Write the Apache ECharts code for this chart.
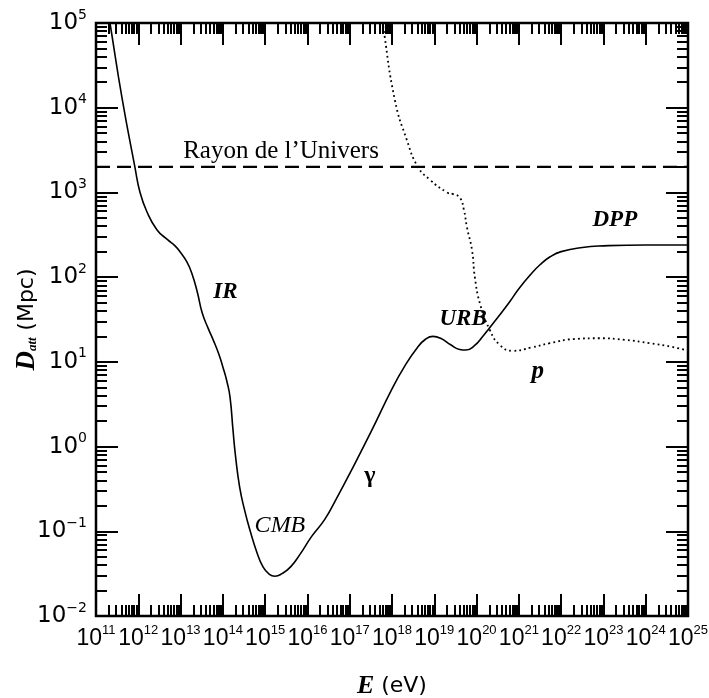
<!DOCTYPE html>
<html><head><meta charset="utf-8">
<script src="https://cdn.jsdelivr.net/npm/echarts@6/dist/echarts.min.js"></script>
<style>html,body{margin:0;padding:0;background:#fff}#c{width:709px;height:698px}</style>
</head><body><div id="c"></div>
<script>
// ---- data ----
const gammaE = [1.58e11, 2.14e11, 4.17e11, 8.3e11, 1.1e12, 1.58e12, 2.75e12, 5.0e12, 7.4e12, 1.0e13, 1.41e13, 1.86e13, 2.5e13, 3.24e13, 4.47e13, 5.9e13, 7.9e13, 1.0e14, 1.26e14, 1.48e14, 1.74e14, 2.0e14, 2.5e14, 3.3e14, 4.4e14, 6.3e14, 8.9e14, 1.26e15, 1.7e15, 2.5e15, 4.0e15, 6.6e15, 1.26e16, 2.57e16, 5.0e16, 1.0e17, 3.16e17, 1.0e18, 2.0e18, 4.0e18, 6.3e18, 9.3e18, 1.41e19, 2.5e19, 4.0e19, 5.6e19, 8.9e19, 1.41e20, 2.0e20, 3.55e20, 6.2e20, 1.0e21, 1.82e21, 3.16e21, 5.6e21, 1.0e22, 3.16e22, 1.0e23, 1.0e24, 1.0e25];
const gammaD = [2.5e5, 1.0e5, 1.26e4, 2000, 1000, 600, 363, 275, 234, 195, 151, 110, 66, 38, 25, 18.2, 12.6, 8.7, 5.75, 3.8, 1.55, 0.76, 0.33, 0.174, 0.102, 0.0575, 0.038, 0.031, 0.0295, 0.0316, 0.038, 0.053, 0.087, 0.138, 0.25, 0.48, 1.48, 4.8, 8.9, 14.8, 18.6, 20, 19, 15.8, 14, 13.8, 15.5, 20, 25, 36, 52, 73, 105, 140, 175, 200, 224, 234, 240, 240];
const protonE = [5.0e17, 6.0e17, 1.17e18, 2.24e18, 4.1e18, 7.9e18, 2.0e19, 2.8e19, 4.0e19, 5.0e19, 5.9e19, 7.8e19, 9.1e19, 1.2e20, 2.04e20, 3.55e20, 7.2e20, 2.0e21, 5.4e21, 2.0e22, 8.1e22, 3.16e23, 1.26e24, 4.0e24, 1.0e25];
const protonD = [1.8e5, 1.0e5, 1.23e4, 4170, 2000, 1410, 1000, 955, 870, 630, 390, 209, 100, 49, 24, 15.8, 13.5, 14.8, 16.6, 18.6, 19, 18.2, 16.6, 15.1, 13.5];
const universeE = [1e11, 1e25];
const universeD = [2000, 2000];
const xTickExponents = [11, 12, 13, 14, 15, 16, 17, 18, 19, 20, 21, 22, 23, 24, 25];
const yTickExponents = [-2, -1, 0, 1, 2, 3, 4, 5];
const minorMultipliers = [2, 3, 4, 5, 6, 7, 8, 9];
const annotationTexts = ['Rayon de l\u2019Univers', 'IR', 'CMB', '\u03b3', 'URB', 'p', 'DPP'];
const annotationE = [1.15e13, 1.15e14, 2.24e15, 3.0e17, 4.8e19, 2.8e21, 1.86e23];
const annotationD = [3080, 66, 0.118, 0.45, 32, 7.6, 472];

// ---- styles ----
const serif = 'Liberation Serif';
const annotationStyles = [
  {fontStyle: 'normal', fontWeight: 'normal', fontSize: 25, align: 'left'},
  {fontStyle: 'italic', fontWeight: 'bold', fontSize: 23, align: 'center'},
  {fontStyle: 'italic', fontWeight: 'normal', fontSize: 24, align: 'center'},
  {fontStyle: 'normal', fontWeight: 'bold', fontSize: 24, align: 'center'},
  {fontStyle: 'italic', fontWeight: 'bold', fontSize: 23, align: 'center'},
  {fontStyle: 'italic', fontWeight: 'bold', fontSize: 25, align: 'center'},
  {fontStyle: 'italic', fontWeight: 'bold', fontSize: 23, align: 'center'}
];

const minorOf = (exps) => {
  const out = [];
  for (let i = 0; i < exps.length - 1; i++) {
    for (const k of minorMultipliers) out.push(exps[i] + Math.log10(k));
  }
  return out;
};
const xMinor = minorOf(xTickExponents);
const yMinor = minorOf(yTickExponents);
const expText = (v) => '{b|10}{s|' + String(Math.round(v)).replace('-', '\u2212') + '}';

function tickAxis(min, max, position, values, len, withLabels, labelOpts) {
  return {
    type: 'value', min: min, max: max, position: position,
    axisLine: {show: false, onZero: false},
    axisTick: {show: true, inside: true, length: len, customValues: values,
      lineStyle: {color: '#000', width: 2}},
    axisLabel: withLabels ? Object.assign({show: true, customValues: values,
      showMinLabel: true, showMaxLabel: true, hideOverlap: false,
      formatter: expText, color: '#000'}, labelOpts) : {show: false},
    splitLine: {show: false}
  };
}

const xLabelOpts = {margin: 8, rich: {
  b: {fontFamily: 'Liberation Sans', fontSize: 23, color: '#000'},
  s: {fontFamily: 'Liberation Sans', fontSize: 13, color: '#000', padding: [0, 0, 16, 0]}
}};
const yLabelOpts = {margin: 9, rich: {
  b: {fontFamily: 'DejaVu Sans', fontSize: 23, color: '#000'},
  s: {fontFamily: 'DejaVu Sans', fontSize: 14, color: '#000', padding: [0, 0, 16, 0]}
}};

const chart = echarts.init(document.getElementById('c'), null, {renderer: 'canvas'});
chart.setOption({
  animation: false,
  backgroundColor: '#fff',
  grid: {left: 96, right: 21, top: 23, bottom: 82, outerBoundsMode: 'none', containLabel: false,
    show: true, borderColor: '#000', borderWidth: 2.5, backgroundColor: 'transparent'},
  xAxis: [
    {type: 'log', logBase: 10, min: 1e11, max: 1e25, position: 'bottom',
     axisLine: {show: false, onZero: false}, axisTick: {show: false}, axisLabel: {show: false}, splitLine: {show: false},
     name: '{e|E}  {u|(eV)}', nameLocation: 'middle', nameGap: 57,
     nameTextStyle: {rich: {
       e: {fontFamily: serif, fontStyle: 'italic', fontWeight: 'bold', fontSize: 26, color: '#000'},
       u: {fontFamily: 'DejaVu Sans', fontSize: 22, color: '#000'}
     }}},
    tickAxis(11, 25, 'bottom', xTickExponents, 22, true, xLabelOpts),
    tickAxis(11, 25, 'bottom', xMinor, 11, false),
    tickAxis(11, 25, 'top', xTickExponents, 22, false),
    tickAxis(11, 25, 'top', xMinor, 11, false)
  ],
  yAxis: [
    {type: 'log', logBase: 10, min: 1e-2, max: 1e5, position: 'left',
     axisLine: {show: false, onZero: false}, axisTick: {show: false}, axisLabel: {show: false}, splitLine: {show: false},
     name: '{d|D}{a|att}  {u|(Mpc)}', nameLocation: 'middle', nameGap: 55, nameRotate: 90,
     nameTextStyle: {rich: {
       d: {fontFamily: serif, fontStyle: 'italic', fontWeight: 'bold', fontSize: 27, color: '#000'},
       a: {fontFamily: serif, fontStyle: 'italic', fontWeight: 'bold', fontSize: 13, color: '#000', padding: [10, 0, 0, 0]},
       u: {fontFamily: 'DejaVu Sans', fontSize: 22, color: '#000'}
     }}},
    tickAxis(-2, 5, 'left', yTickExponents, 22, true, yLabelOpts),
    tickAxis(-2, 5, 'left', yMinor, 11, false),
    tickAxis(-2, 5, 'right', yTickExponents, 22, false),
    tickAxis(-2, 5, 'right', yMinor, 11, false)
  ],
  series: [
    {type: 'line', name: 'gamma', xAxisIndex: 0, yAxisIndex: 0, showSymbol: false, smooth: 0.5, clip: true,
     lineStyle: {color: '#000', width: 1.6},
     data: gammaE.map((e, i) => [e, gammaD[i]])},
    {type: 'line', name: 'proton', xAxisIndex: 0, yAxisIndex: 0, showSymbol: false, smooth: 0.5, clip: true,
     lineStyle: {color: '#000', width: 1.8, type: [1.8, 3.2]},
     data: protonE.map((e, i) => [e, protonD[i]])},
    {type: 'line', name: 'universe', xAxisIndex: 0, yAxisIndex: 0, showSymbol: false, clip: true,
     lineStyle: {color: '#000', width: 2.2, type: [14, 7]},
     data: universeE.map((e, i) => [e, universeD[i]])},
    {type: 'scatter', name: 'labels', xAxisIndex: 0, yAxisIndex: 0, symbolSize: 0, silent: true,
     itemStyle: {color: '#000', opacity: 0},
     data: annotationTexts.map((t, i) => ({
       value: [annotationE[i], annotationD[i]],
       label: Object.assign({show: true, position: 'inside', formatter: t, color: '#000', opacity: 1,
         textBorderWidth: 0, fontFamily: serif, verticalAlign: 'middle'}, annotationStyles[i])
     }))}
  ]
});
</script></body></html>
